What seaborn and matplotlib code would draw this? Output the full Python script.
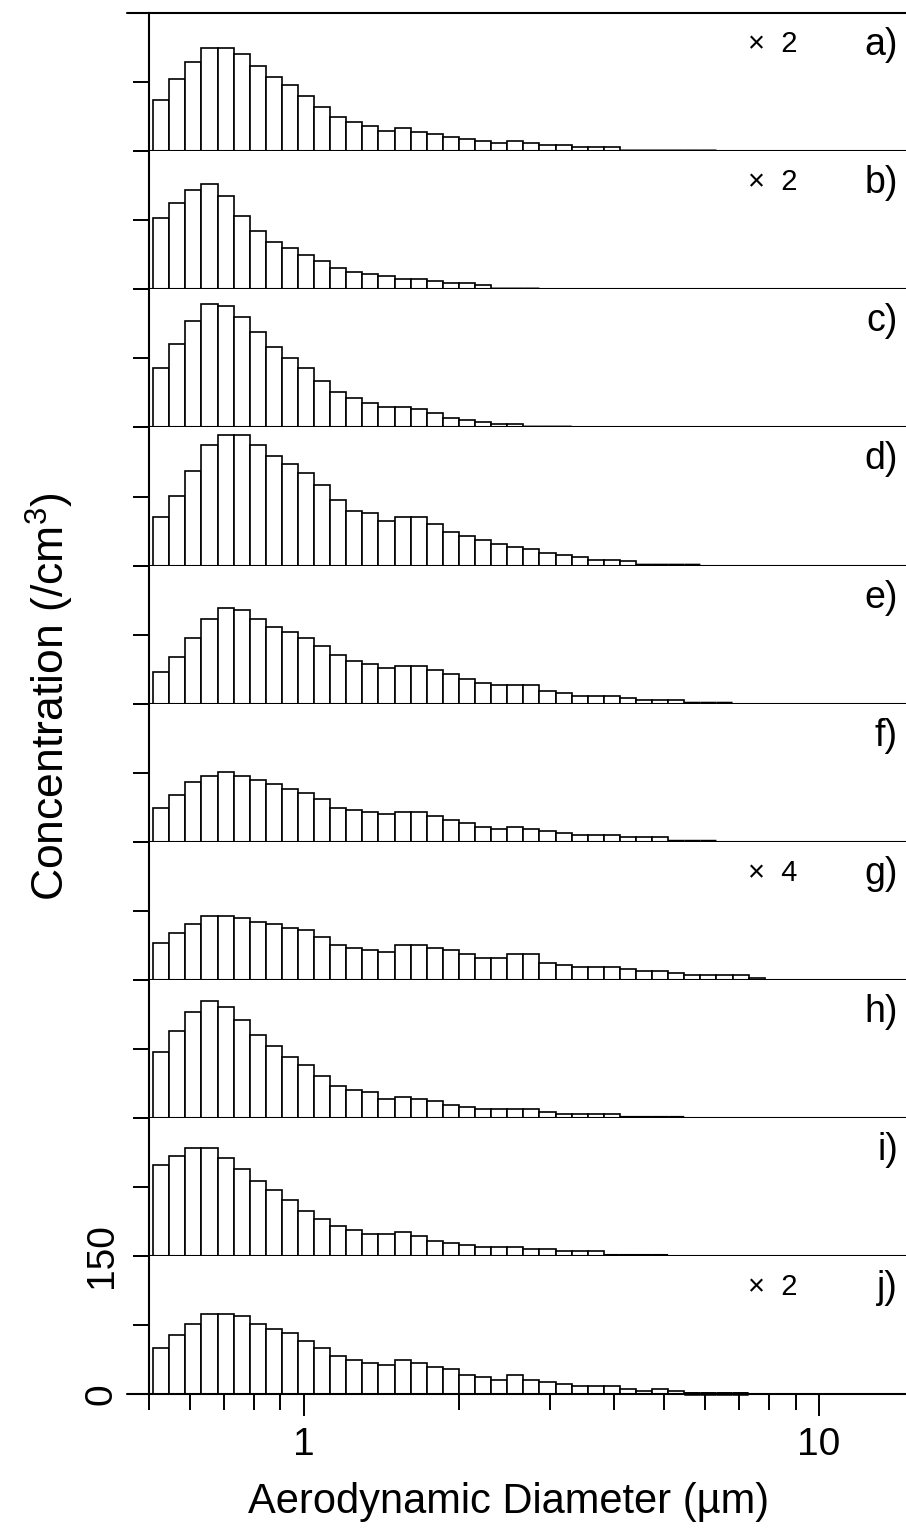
import numpy as np
import pandas as pd
import matplotlib
matplotlib.use("Agg")
import matplotlib.pyplot as plt
from matplotlib.lines import Line2D
from matplotlib.ticker import FixedLocator, FixedFormatter, NullFormatter
import seaborn as sns

# Size-channel midpoints (µm), 32 channels per decade
diameter_um = [0.5280, 0.5674, 0.6097, 0.6552, 0.7041, 0.7566, 0.8131, 0.8737,
               0.9389, 1.009, 1.084, 1.165, 1.252, 1.345, 1.446, 1.554, 1.670,
               1.794, 1.928, 2.072, 2.227, 2.393, 2.571, 2.763, 2.969, 3.191,
               3.429, 3.684, 3.959, 4.255, 4.572, 4.913, 5.280, 5.674, 6.097,
               6.552, 7.041, 7.566]

panel_labels = ["a)", "b)", "c)", "d)", "e)", "f)", "g)", "h)", "i)", "j)"]
scale_factors = [2, 2, 1, 1, 1, 1, 4, 1, 1, 2]

# Number concentrations per channel (/cm3), before display scaling
conc_a = [27.7, 39.5, 48.5, 56.0, 56.0, 53.0, 46.5, 40.5, 36.0, 30.0, 24.3, 18.5,
          16.0, 13.8, 11.3, 12.9, 10.5, 9.4, 8.0, 6.7, 5.6, 4.4, 5.6, 4.5, 3.5,
          3.5, 2.2, 2.2, 2.2, 0, 0, 0, 0, 0, 0]
conc_b = [38.6, 47.2, 54.0, 57.5, 50.5, 39.9, 32.0, 26.0, 22.5, 18.9, 15.4, 11.9,
          9.4, 8.4, 7.2, 5.9, 5.9, 4.8, 3.7, 3.7, 2.6, 0, 0, 0]
conc_c = [64.4, 90.3, 115.4, 134.3, 131.8, 120.0, 103.8, 87.4, 75.7, 64.4, 50.6,
          39.0, 31.7, 27.0, 22.2, 22.2, 20.0, 15.3, 10.6, 8.4, 6.2, 3.6, 3.6,
          0, 0, 0]
conc_d = [53.1, 76.0, 103.0, 130.6, 142.0, 142.0, 130.6, 119.0, 109.8, 100.5,
          87.2, 71.0, 59.2, 57.0, 48.0, 52.8, 52.8, 45.6, 36.6, 32.0, 27.6, 23.0,
          20.5, 18.3, 13.6, 11.5, 9.0, 6.5, 6.5, 4.7, 0, 0, 0, 0]
conc_e = [34.3, 51.0, 71.2, 92.2, 103.4, 101.2, 92.2, 82.8, 78.0, 71.2, 62.2,
          53.1, 45.9, 43.4, 38.7, 41.2, 41.2, 36.5, 32.2, 27.1, 22.8, 20.2, 20.2,
          20.2, 13.7, 11.2, 8.3, 8.3, 8.3, 6.1, 4.0, 4.0, 4.0, 0, 0, 0]
conc_f = [36.1, 50.6, 64.3, 71.6, 75.9, 71.2, 66.5, 62.2, 57.5, 52.8, 45.9, 36.9,
          34.3, 32.2, 29.6, 32.2, 32.2, 27.5, 23.1, 20.6, 15.9, 13.7, 15.9, 13.7,
          11.2, 9.0, 6.9, 6.9, 6.9, 4.7, 4.7, 4.7, 0, 0, 0]
conc_g = [9.9, 12.8, 15.1, 17.4, 17.4, 16.8, 15.6, 15.1, 14.0, 13.4, 11.6, 9.3,
          8.7, 8.2, 7.5, 9.3, 9.3, 8.7, 8.2, 7.0, 5.8, 5.8, 6.9, 6.9, 4.6, 4.1,
          3.5, 3.5, 3.5, 2.9, 2.3, 2.3, 1.7, 1.2, 1.2, 1.2, 1.2, 0.5]
conc_h = [71.6, 94.3, 115.3, 126.5, 120.0, 105.9, 90.0, 78.4, 66.5, 57.5, 45.9,
          34.3, 30.0, 27.5, 20.6, 23.1, 20.6, 18.4, 13.7, 11.2, 9.0, 9.0, 9.0,
          9.0, 6.5, 4.3, 4.3, 4.3, 4.3, 0, 0, 0, 0]
conc_i = [98.9, 108.3, 117.6, 117.6, 106.1, 94.6, 81.3, 71.9, 60.4, 48.9, 39.9,
          32.7, 28.1, 23.4, 23.4, 25.5, 21.2, 16.5, 14.4, 11.9, 9.7, 9.7, 9.7,
          7.2, 7.2, 5.0, 5.0, 5.0, 0, 0, 0, 0]
conc_j = [25.1, 31.8, 37.8, 43.6, 43.6, 42.3, 37.8, 35.4, 33.3, 28.8, 25.1, 20.6,
          18.5, 17.0, 15.9, 18.5, 17.0, 14.8, 13.6, 10.1, 9.2, 7.6, 10.1, 7.6,
          6.4, 5.4, 4.2, 4.2, 4.2, 2.9, 1.8, 2.9, 1.8, 0, 0, 0, 0]

panels = [conc_a, conc_b, conc_c, conc_d, conc_e, conc_f, conc_g, conc_h,
          conc_i, conc_j]

y_ticks = [0, 75, 150]
y_tick_labels = ["0", "", "150"]
x_major = [1, 10]
x_major_labels = ["1", "10"]
x_minor = [0.5, 0.6, 0.7, 0.8, 0.9, 2, 3, 4, 5, 6, 7, 8, 9]

sns.set_theme(style="ticks")
plt.rcParams["font.family"] = ["Liberation Sans", "DejaVu Sans"]
plt.rcParams["mathtext.default"] = "regular"
for key in ("text.color", "axes.labelcolor", "xtick.color", "ytick.color",
            "axes.edgecolor"):
    plt.rcParams[key] = "black"

W, H = 906, 1530
fig = plt.figure(figsize=(W / 100, H / 100), dpi=100)

left_px, right_px = 149.0, 906
top_px, panel_px = 13.3, 138.06
x_lo, x_hi = 0.5, 14.75

log_all = np.log10(diameter_um)
step = float(np.diff(log_all).mean())

for i, (vals, lab, fac) in enumerate(zip(panels, panel_labels, scale_factors)):
    y_top = top_px + i * panel_px
    y0 = y_top + panel_px
    ax = fig.add_axes([left_px / W, 1 - y0 / H, (right_px - left_px) / W, panel_px / H])

    n = len(vals)
    df = pd.DataFrame({"diameter": diameter_um[:n],
                       "shown": np.asarray(vals) * fac})
    logc = np.log10(df["diameter"].to_numpy())
    log_edges = np.concatenate([[logc[0] - step / 2],
                                (logc[:-1] + logc[1:]) / 2,
                                [logc[-1] + step / 2]])

    sns.histplot(data=df, x="diameter", weights="shown",
                 bins=[float(e) for e in log_edges],
                 log_scale=True, ax=ax, color="white", edgecolor="black",
                 linewidth=1.2, alpha=1, legend=False)
    # empty channels show up as a heavier stroke along the baseline
    for p in ax.patches:
        if p.get_height() == 0:
            p.set_linewidth(2.7)
            p.set_clip_on(False)
            p.set_snap(False)
            p.set_zorder(3)

    ax.set_xlim(x_lo, x_hi)
    ax.set_ylim(0, 150)
    ax.set_xlabel("")
    ax.set_ylabel("")

    ax.spines["right"].set_visible(False)
    ax.spines["top"].set_visible(i == 0)
    for side in ("left", "bottom", "top"):
        ax.spines[side].set_linewidth(1.5)
        ax.spines[side].set_color("black")

    ax.set_yticks(y_ticks)
    ax.tick_params(axis="y", direction="out", length=11.5, width=1.4,
                   color="black", pad=9.5)
    if i == len(panels) - 1:
        ax.set_yticklabels(y_tick_labels, rotation=90, va="center", fontsize=28)
        ax.xaxis.set_major_locator(FixedLocator(x_major))
        ax.xaxis.set_major_formatter(FixedFormatter(x_major_labels))
        ax.xaxis.set_minor_locator(FixedLocator(x_minor))
        ax.xaxis.set_minor_formatter(NullFormatter())
        ax.tick_params(axis="x", which="major", direction="out", length=16,
                       width=1.4, color="black", labelsize=28, pad=7.5)
        ax.tick_params(axis="x", which="minor", direction="out", length=11.5,
                       width=1.4, color="black")
    else:
        ax.set_yticklabels([])
        ax.tick_params(axis="x", which="both", bottom=False, labelbottom=False)

    fig.text(898 / W, 1 - (y_top + 32) / H, lab, ha="right", va="center",
             fontsize=27)
    if fac != 1:
        fig.text(773 / W, 1 - (y_top + 31) / H, f"\u00d7  {fac}",
                 ha="center", va="center", fontsize=21)

# outer frame lines reaching past the left axis
for ypx in (top_px, top_px + 10 * panel_px):
    fig.add_artist(Line2D([127 / W, left_px / W], [1 - ypx / H] * 2,
                          color="black", lw=1.5))

fig.text(50 / W, 1 - 697 / H, "Concentration (/cm$^3$)", rotation=90,
         ha="center", va="center", fontsize=32)
fig.text(509 / W, 1 - 1502 / H, "Aerodynamic Diameter (\u00b5m)",
         ha="center", va="center", fontsize=30)

fig.savefig("out.png", dpi=100)
